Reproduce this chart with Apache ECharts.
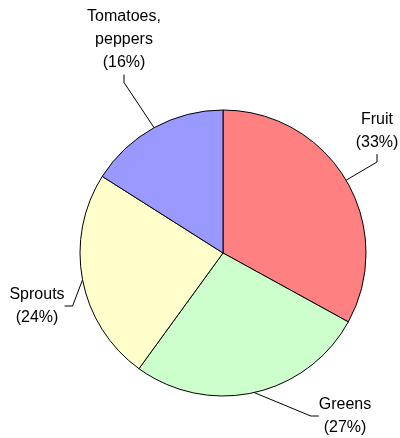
<!DOCTYPE html>
<html>
<head>
<meta charset="utf-8">
<script src="https://cdn.jsdelivr.net/npm/echarts@6/dist/echarts.min.js"></script>
<style>
html,body{margin:0;padding:0;background:#fff;}
#c{width:400px;height:438px;}
</style>
</head>
<body>
<div id="c"></div>
<script>
var categories = ["Fruit", "Greens", "Sprouts", "Tomatoes, peppers"];
var values = [33, 27, 24, 16];
var colors = ["#FF8080", "#CCFFCC", "#FFFFCC", "#9999FF"];

// label block centres (layout only)
var labelPos = [[377, 131], [345, 416], [37, 306], [124, 40]];

var chart = echarts.init(document.getElementById('c'), null, {renderer: 'canvas'});
chart.setOption({
  animation: false,
  backgroundColor: '#ffffff',
  series: [{
    type: 'pie',
    center: [223, 253],
    radius: 143,
    startAngle: 90,
    clockwise: true,
    avoidLabelOverlap: false,
    data: categories.map(function (n, i) {
      return {name: n, value: values[i], itemStyle: {color: colors[i]}};
    }),
    itemStyle: {borderColor: '#000', borderWidth: 1},
    emphasis: {disabled: true},
    label: {
      show: true,
      color: '#000',
      fontFamily: 'Liberation Sans, Arial, sans-serif',
      fontSize: 16,
      lineHeight: 23,
      align: 'center',
      overflow: 'none',
      formatter: function (p) {
        return p.name.replace(', ', ',\n') + '\n(' + Math.round(p.percent) + '%)';
      }
    },
    labelLine: {show: true, length: 10, length2: 8, lineStyle: {color: '#000', width: 1}},
    labelLayout: function (p) {
      var pos = labelPos[p.dataIndex];
      return {x: pos[0], y: pos[1], align: 'center', verticalAlign: 'middle'};
    }
  }]
});
</script>
</body>
</html>
